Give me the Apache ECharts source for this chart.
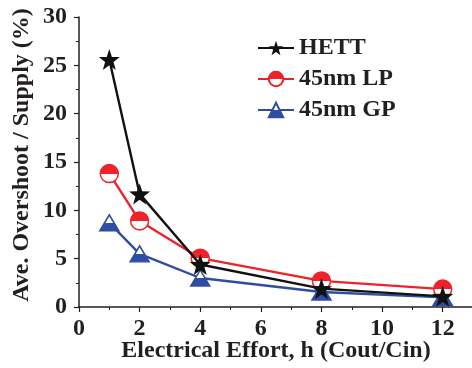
<!DOCTYPE html>
<html>
<head>
<meta charset="utf-8">
<script src="https://cdn.jsdelivr.net/npm/echarts@6/dist/echarts.min.js"></script>
<style>
html,body{margin:0;padding:0;background:#fff;}
#c{width:472px;height:368px;}
</style>
</head>
<body>
<div id="c"></div>
<script>
const effort = [1, 2, 4, 8, 12];
const hett = [25.6, 11.7, 4.4, 1.9, 1.1];
const lp45 = [13.8, 8.9, 5.05, 2.7, 1.85];
const gp45 = [8.7, 5.5, 3.0, 1.55, 1.0];
const seriesNames = ['HETT', '45nm LP', '45nm GP'];
const xTitle = 'Electrical Effort, h (Cout/Cin)';
const yTitle = 'Ave. Overshoot / Supply (%)';

const FONT = "'Liberation Serif', 'Times New Roman', serif";
const INK = '#231f20';
const RED = '#ee2229';
const BLUE = '#2f4ea2';

function pairs(ys){ return effort.map((x,i)=>[x, ys[i]]); }
function half(topC, botC){
  return {type:'linear', x:0, y:0, x2:0, y2:1, colorStops:[
    {offset:0, color:topC},{offset:0.5, color:topC},
    {offset:0.5, color:botC},{offset:1, color:botC}]};
}
const gridBox = {left:79, right:-1, top:17, bottom:61, containLabel:false, outerBoundsMode:'none'};

const chart = echarts.init(document.getElementById('c'));
chart.setOption({
  animation:false,
  backgroundColor:'#fff',
  grid:[Object.assign({}, gridBox), Object.assign({}, gridBox)],
  legend:{
    orient:'vertical', left:252, top:31, itemWidth:36, itemHeight:18, itemGap:7,
    textStyle:{fontFamily:FONT, fontWeight:'bold', fontSize:24, color:INK},
    data:seriesNames
  },
  xAxis:[{
    gridIndex:0, type:'value', min:0, max:13, interval:2,
    axisLine:{lineStyle:{color:INK, width:1.5}},
    axisTick:{length:5, lineStyle:{color:INK, width:1.2}},
    splitLine:{show:false},
    axisLabel:{margin:10, fontFamily:FONT, fontWeight:'bold', fontSize:24, color:INK, showMaxLabel:false},
    name:xTitle, nameLocation:'middle', nameGap:32, nameMoveOverlap:false,
    nameTextStyle:{fontFamily:FONT, fontWeight:'bold', fontSize:24, color:INK}
  },{
    gridIndex:1, type:'value', min:0, max:13, interval:1, position:'bottom',
    axisLine:{show:false},
    axisTick:{length:3, lineStyle:{color:INK, width:1}},
    axisLabel:{show:false}, splitLine:{show:false}
  }],
  yAxis:[{
    gridIndex:0, type:'value', min:0, max:30, interval:5,
    axisLine:{show:true, lineStyle:{color:INK, width:1.5}},
    axisTick:{show:true, length:5, lineStyle:{color:INK, width:1.2}},
    minorTick:{show:true, splitNumber:2, length:3, lineStyle:{color:INK, width:1}},
    splitLine:{show:false},
    axisLabel:{margin:12, fontFamily:FONT, fontWeight:'bold', fontSize:24, color:INK},
    name:yTitle, nameLocation:'middle', nameGap:45, nameMoveOverlap:false,
    nameTextStyle:{fontFamily:FONT, fontWeight:'bold', fontSize:24, color:INK, padding:[0,0,0,14]}
  },{
    gridIndex:1, type:'value', min:0, max:30, show:false
  }],
  series:[
    {name:seriesNames[0], type:'line', data:pairs(hett), symbol:'path://M0,-10 L2.35,-3.24 L9.51,-3.09 L3.8,1.24 L5.88,8.09 L0,4 L-5.88,8.09 L-3.8,1.24 L-9.51,-3.09 L-2.35,-3.24 Z',
     symbolSize:21, lineStyle:{color:'#111', width:2.4}, itemStyle:{color:'#111'}, z:3},
    {name:seriesNames[1], type:'line', data:pairs(lp45), symbol:'circle', symbolSize:18,
     lineStyle:{color:RED, width:2.4}, itemStyle:{color:half(RED,'#fff'), borderColor:RED, borderWidth:1.5}, z:2},
    {name:seriesNames[2], type:'line', data:pairs(gp45), symbol:'triangle', symbolSize:[19,16],
     lineStyle:{color:BLUE, width:2.4}, itemStyle:{color:half('#fff',BLUE), borderColor:BLUE, borderWidth:1.5}, z:1}
  ]
});
</script>
</body>
</html>
